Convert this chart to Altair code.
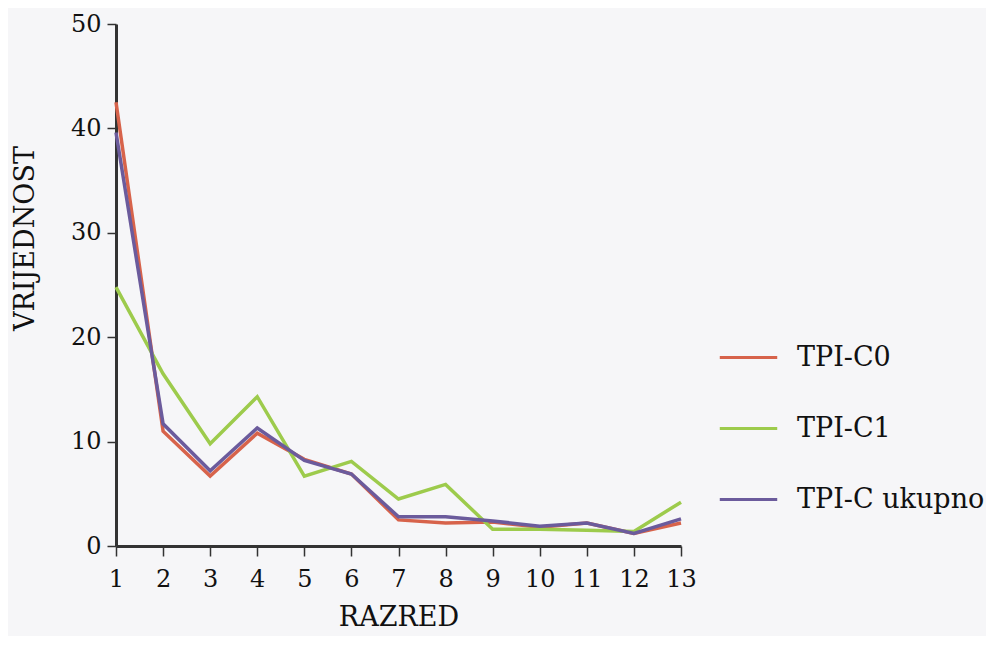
import altair as alt
import pandas as pd

razred = list(range(1, 14))
tpi_c0 = [42.5, 11.0, 6.7, 10.8, 8.3, 6.9, 2.5, 2.2, 2.3, 1.8, 2.2, 1.2, 2.2]
tpi_c1 = [24.8, 16.5, 9.8, 14.3, 6.7, 8.1, 4.5, 5.9, 1.6, 1.6, 1.5, 1.4, 4.2]
tpi_uk = [39.6, 11.7, 7.2, 11.3, 8.2, 6.9, 2.8, 2.8, 2.4, 1.9, 2.2, 1.2, 2.6]

series = ["TPI-C0", "TPI-C1", "TPI-C ukupno"]
colors = ["#d7634b", "#9dcb4c", "#6b5b9c"]

rows = []
for name, vals in zip(series, [tpi_c0, tpi_c1, tpi_uk]):
    for r, v in zip(razred, vals):
        rows.append({"RAZRED": r, "VRIJEDNOST": v, "serija": name})
df = pd.DataFrame(rows)

font = "DejaVu Serif"

chart = alt.Chart(df).mark_line(strokeWidth=3.5).encode(
    x=alt.X("RAZRED:Q",
            scale=alt.Scale(domain=[1, 13], nice=False, zero=False),
            axis=alt.Axis(values=razred, title="RAZRED", grid=False,
                          domainColor="#333333", domainWidth=3,
                          tickColor="#333333", tickWidth=1.5, tickSize=10,
                          labelFontSize=24, labelFont=font, labelColor="#111111",
                          labelPadding=11, titleFont=font, titleFontSize=27,
                          titleFontWeight="normal", titleColor="#111111",
                          titleY=58, titleBaseline="top", labelFlush=False)),
    y=alt.Y("VRIJEDNOST:Q",
            scale=alt.Scale(domain=[0, 50], nice=False),
            axis=alt.Axis(values=[0, 10, 20, 30, 40, 50], title="VRIJEDNOST", grid=False,
                          domainColor="#333333", domainWidth=3,
                          tickColor="#333333", tickWidth=1.5, tickSize=9,
                          labelFontSize=24, labelFont=font, labelColor="#111111",
                          labelPadding=6, titleFont=font, titleFontSize=27,
                          titleFontWeight="normal", titleColor="#111111",
                          titleX=-77, titleY=214, titleAngle=270, labelFlush=False)),
    color=alt.Color("serija:N",
                    scale=alt.Scale(domain=series, range=colors),
                    sort=series,
                    legend=alt.Legend(title=None, orient="none", legendX=602, legendY=303,
                                      symbolType="stroke", symbolSize=3300,
                                      symbolStrokeWidth=3, labelFont=font,
                                      labelFontSize=27, labelColor="#111111",
                                      labelLimit=400,
                                      labelOffset=18, rowPadding=27)),
).properties(
    width=565, height=522,
    background="#f6f6f8",
    padding={"left": 108, "top": 16, "right": 305, "bottom": 90},
    autosize=alt.AutoSizeParams(type="none"),
).configure_view(stroke=None)

chart.save("out.html", embed_options={"renderer": "svg", "actions": False})
